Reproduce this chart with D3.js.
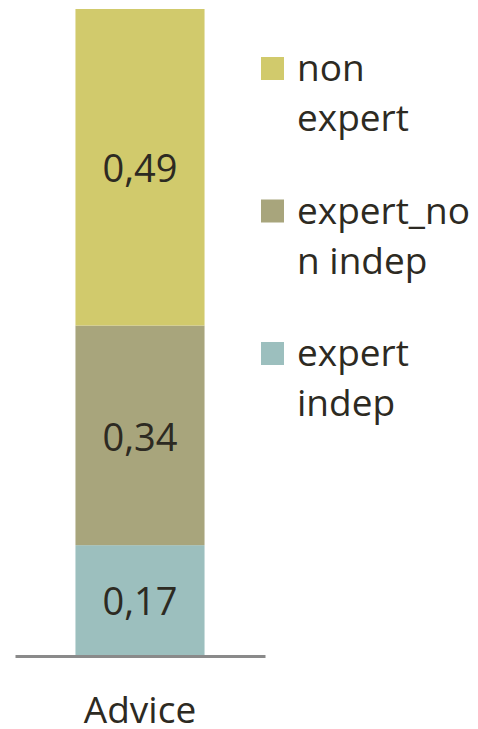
<!DOCTYPE html>
<html>
<head>
<meta charset="utf-8">
<script src="https://cdn.jsdelivr.net/npm/d3@7"></script>
<style>
  html, body { margin: 0; padding: 0; background: #ffffff; }
  svg { display: block; }
  text { font-family: "Open Sans", "Noto Sans", sans-serif; fill: #2d2a22; }
</style>
</head>
<body>
<svg id="chart" width="478" height="729"></svg>
<script>
// Categories and stacked series (bottom to top)
const categories = ["Advice"];
const seriesNames = ["expert indep", "expert_non indep", "non expert"];
const expertIndep = [0.17];
const expertNonIndep = [0.34];
const nonExpert = [0.49];
const seriesColors = ["#9cbfbe", "#a8a57c", "#d1ca6c"];
// Legend order (top to bottom) with wrapped labels
const legendOrder = ["non expert", "expert_non indep", "expert indep"];
const legendLines = [["non", "expert"], ["expert_no", "n indep"], ["expert", "indep"]];

const svg = d3.select("#chart");

const rows = categories.map((c, i) => ({
  category: c,
  "expert indep": expertIndep[i],
  "expert_non indep": expertNonIndep[i],
  "non expert": nonExpert[i]
}));

const stack = d3.stack().keys(seriesNames)(rows);

const x = d3.scaleBand().domain(categories).range([15, 265]).paddingInner(0.319).paddingOuter(0.319);
const y = d3.scaleLinear().domain([0, 1]).range([655, 9]);
const color = d3.scaleOrdinal().domain(seriesNames).range(seriesColors);

const fmt = v => d3.format(".2f")(v).replace(".", ",");

// Stacked bar segments
const layers = svg.append("g").selectAll("g")
  .data(stack).join("g")
  .attr("fill", d => color(d.key));

layers.selectAll("rect")
  .data(d => d.map(p => ({ p, key: d.key })))
  .join("rect")
  .attr("x", d => x(d.p.data.category))
  .attr("width", x.bandwidth())
  .attr("y", d => y(d.p[1]))
  .attr("height", d => y(d.p[0]) - y(d.p[1]));

// Value labels centred in each segment
layers.selectAll("text")
  .data(d => d.map(p => ({ p, key: d.key })))
  .join("text")
  .attr("x", d => x(d.p.data.category) + x.bandwidth() / 2)
  .attr("y", d => (y(d.p[0]) + y(d.p[1])) / 2)
  .attr("dy", "0.4em")
  .attr("text-anchor", "middle")
  .attr("font-size", 38)
  .text(d => fmt(d.p[1] - d.p[0]));

// Category axis
const axis = svg.append("g")
  .attr("transform", `translate(0,${y(0) + 1})`)
  .call(d3.axisBottom(x).tickSize(0).tickPadding(41));
axis.select(".domain").attr("stroke", "#8a8a8a").attr("stroke-width", 3);
axis.selectAll(".tick text")
  .attr("font-size", 37)
  .attr("font-family", "'Open Sans', sans-serif")
  .attr("fill", "#2d2a22");

// Legend
const legend = svg.append("g").selectAll("g")
  .data(legendOrder).join("g")
  .attr("transform", (d, i) => `translate(261,${57 + i * 142.5})`);

legend.append("rect")
  .attr("width", 23).attr("height", 23)
  .attr("fill", d => color(d));

legend.append("text")
  .attr("x", 36)
  .attr("y", 24)
  .attr("font-size", 37)
  .selectAll("tspan")
  .data((d, i) => legendLines[i])
  .join("tspan")
  .attr("x", 36)
  .attr("dy", (d, j) => j === 0 ? 0 : 50)
  .text(d => d);
</script>
</body>
</html>
